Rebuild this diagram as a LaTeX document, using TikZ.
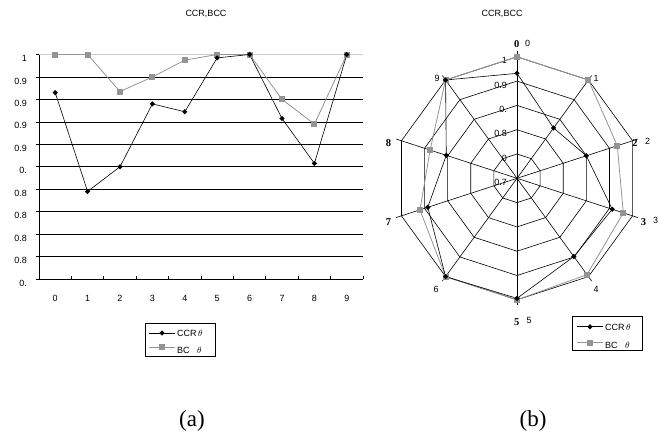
\documentclass[tikz,border=0pt]{standalone}
\usepackage{fontspec}
\setmainfont{Liberation Serif}
\setsansfont{Liberation Sans}
\usetikzlibrary{positioning,calc,shapes.geometric}

\definecolor{bcgray}{gray}{0.58}
\definecolor{topgray}{gray}{0.8}

\tikzset{
    lbl/.style={font=\sffamily\fontsize{9}{10}\selectfont, inner sep=0pt},
    boldnum/.style={font=\rmfamily\bfseries\fontsize{10.5}{12}\selectfont, inner sep=0pt},
    caption/.style={font=\rmfamily\fontsize{23}{26}\selectfont, inner sep=0pt},
    gridline/.style={black, line width=0.7pt},
    web/.style={black, line width=0.6pt},
    ccr/.style={black, line width=0.6pt},
    bc/.style={bcgray, line width=0.8pt},
    ccrdot/.style={diamond, fill=black, inner sep=0pt, minimum size=5.5pt},
    bcsq/.style={rectangle, fill=bcgray, inner sep=0pt, minimum size=6pt},
    legbox/.style={draw, line width=0.6pt, inner sep=0pt}
}

% data: values from 0 to 9
\def\ccrdata{0.966,0.878,0.900,0.956,0.949,0.997,1.0,0.943,0.903,1.0}
\def\bcdata{1.0,1.0,0.967,0.980,0.995,1.0,1.0,0.960,0.938,1.0}

\begin{document}
\begin{tikzpicture}[x=1pt, y=-1pt]
    \useasboundingbox (0,0) rectangle (664,437);

    % (a) line chart
    \node[lbl] (titleA) at (206,14) {CCR,BCC};
    \foreach \k [count=\n from 0] in {1,0.9,0.9,0.9,0.9,0.,0.8,0.8,0.8,0.8,0.} {
        \coordinate (gl\n) at (39,{54.5+22.45*\n});
        \coordinate (gr\n) at (363,{54.5+22.45*\n});
        \node[lbl, anchor=east] (yl\n) at (27,{58.5+22.45*\n}) {\k};
        \draw[gridline] ($(gl\n)+(-3,0)$) -- (gl\n);
    }
    \foreach \n in {1,...,9}
        \draw[gridline] (gl\n) -- (gr\n);
    \draw[topgray, line width=0.8pt] (gl0) -- (gr0);
    \draw[gridline] (gl0) -- (gl10) -- (gr10);
    \foreach \i in {0,...,10}
        \draw[gridline] ({39+32.4*\i},279) -- ({39+32.4*\i},275.5);
    \foreach \i in {0,...,9}
        \node[lbl] (xl\i) at ({39+32.4*(\i+0.5)},298) {\i};

    \foreach \v [count=\i from 0] in \bcdata
        \coordinate (bcA\i) at ({39+32.4*(\i+0.5)},{54.5+1122.5*(1-\v)});
    \foreach \v [count=\i from 0] in \ccrdata
        \coordinate (ccrA\i) at ({39+32.4*(\i+0.5)},{54.5+1122.5*(1-\v)});
    \draw[bc] (bcA0) \foreach \i in {1,...,9} { -- (bcA\i) };
    \draw[ccr] (ccrA0) \foreach \i in {1,...,9} { -- (ccrA\i) };
    \foreach \i in {0,...,9} {
        \node[bcsq] (bcsqA\i) at (bcA\i) {};
        \node[ccrdot] (ccrdotA\i) at (ccrA\i) {};
    }

    % legend (a)
    \node[legbox, minimum width=70pt, minimum height=33pt] (legA) at (180,339.5) {};
    \draw[ccr] (149,333) -- (175,333);
    \node[ccrdot] (legAccr) at (162,333) {};
    \node[lbl, anchor=west] (legAccrt) at (177,333.5) {CCR\,$\theta$};
    \draw[bc] (149,347) -- (175,347);
    \node[bcsq] (legAbc) at (162,347) {};
    \node[lbl, anchor=west] (legAbct) at (177,350) {BC\ \ \ $\theta$};

    \node[caption] (capA) at (192,421) {(a)};

    % (b) radar chart
    \node[lbl] (titleB) at (502,14) {CCR,BCC};
    \begin{scope}[shift={(517,178.3)}, x=1pt, y=1pt]
        \coordinate (rc) at (0,0);
        \foreach \k in {1,...,5}
            \draw[web] (90:{24.3*\k}) \foreach \j in {1,...,9} { -- ({90-36*\j}:{24.3*\k}) } -- cycle;
        \foreach \j in {0,...,9} {
            \coordinate (sp\j) at ({90-36*\j}:127);
            \draw[web] (rc) -- (sp\j);
        }
        \foreach \k [count=\n from 0] in {0.7,0,0.8,0.,0.9,1}
            \node[lbl, anchor=east] (rl\n) at (-10,{24.3*\n-4}) {\k};

        \foreach \v [count=\i from 0] in \bcdata
            \coordinate (bcB\i) at ({90-36*\i}:{486*(\v-0.75)});
        \foreach \v [count=\i from 0] in \ccrdata
            \coordinate (ccrB\i) at ({90-36*\i}:{486*(\v-0.75)});
        \draw[bc] (bcB0) \foreach \i in {1,...,9} { -- (bcB\i) } -- cycle;
        \draw[ccr] (ccrB0) \foreach \i in {1,...,9} { -- (ccrB\i) } -- cycle;
        \foreach \i in {0,...,9} {
            \node[bcsq] (bcsqB\i) at (bcB\i) {};
            \node[ccrdot] (ccrdotB\i) at (ccrB\i) {};
        }
    \end{scope}

    % category labels round the radar
    \node[boldnum] (b0) at (516.7,44.5) {0};
    \node[lbl] (n0) at (527.5,43) {0};
    \node[lbl] (n1) at (596,78) {1};
    \node[boldnum] (b2) at (635,143) {2};
    \node[lbl] (n2) at (647.5,141) {2};
    \node[boldnum] (b3) at (643.5,222) {3};
    \node[lbl] (n3) at (655.5,220) {3};
    \node[lbl] (n4) at (596,289) {4};
    \node[boldnum] (b5) at (516.7,322) {5};
    \node[lbl] (n5) at (529,320) {5};
    \node[lbl] (n6) at (436,289) {6};
    \node[boldnum] (b7) at (388.5,222) {7};
    \node[boldnum] (b8) at (388.5,143) {8};
    \node[lbl] (n9) at (437,78.5) {9};

    % legend (b)
    \node[legbox, minimum width=69.6pt, minimum height=34pt] (legB) at (607.5,333) {};
    \draw[ccr] (577,326.7) -- (603,326.7);
    \node[ccrdot] (legBccr) at (590,326.7) {};
    \node[lbl, anchor=west] (legBccrt) at (605,327) {CCR\,$\theta$};
    \draw[bc] (577,342.7) -- (603,342.7);
    \node[bcsq] (legBbc) at (590,342.7) {};
    \node[lbl, anchor=west] (legBbct) at (605,345) {BC\ \ \ $\theta$};

    \node[caption] (capB) at (533,421) {(b)};
\end{tikzpicture}
\end{document}
